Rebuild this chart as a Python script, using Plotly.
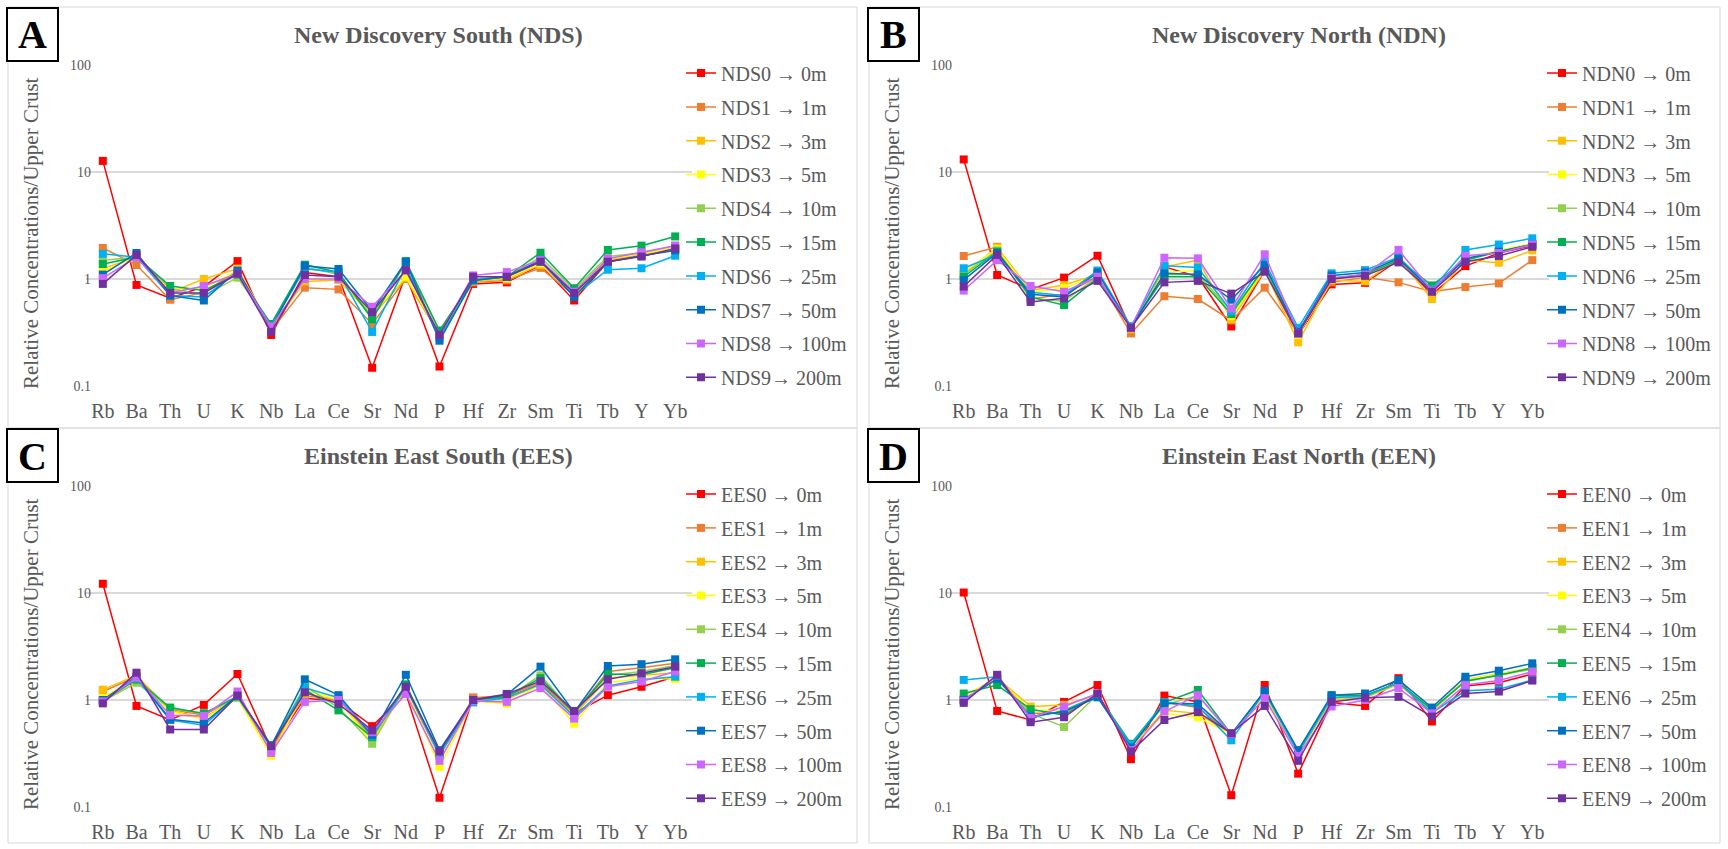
import plotly.graph_objects as go

W, H = 1728, 849

elements = ["Rb", "Ba", "Th", "U", "K", "Nb", "La", "Ce", "Sr", "Nd", "P", "Hf", "Zr", "Sm", "Ti", "Tb", "Y", "Yb"]
depths = ["0m", "1m", "3m", "5m", "10m", "15m", "25m", "50m", "100m", "200m"]
colors = ["#FF0000", "#ED7D31", "#FFC000", "#FFFF00", "#92D050", "#00B050", "#00B0F0", "#0070C0", "#CC66FF", "#7030A0"]

# ---------------- Panel A: New Discovery South (NDS) ----------------
NDS0 = [12.7, 0.88, 0.66, 0.85, 1.47, 0.30, 1.15, 1.05, 0.148, 1.10, 0.152, 0.90, 0.93, 1.35, 0.63, 1.45, 1.65, 1.90]
NDS1 = [1.95, 1.35, 0.64, 0.75, 1.20, 0.33, 0.83, 0.80, 0.38, 1.00, 0.30, 0.93, 0.97, 1.27, 0.70, 1.50, 1.70, 1.95]
NDS2 = [1.25, 1.60, 0.75, 1.00, 1.25, 0.35, 0.95, 0.98, 0.45, 1.02, 0.30, 0.95, 1.00, 1.35, 0.72, 1.50, 1.70, 1.90]
NDS3 = [1.18, 1.60, 0.80, 0.82, 1.20, 0.36, 1.00, 1.00, 0.48, 1.05, 0.31, 0.97, 1.02, 1.40, 0.75, 1.55, 1.72, 1.95]
NDS4 = [1.50, 1.60, 0.82, 0.70, 1.03, 0.37, 1.30, 1.10, 0.45, 1.40, 0.32, 1.00, 1.05, 1.60, 0.80, 1.62, 1.75, 2.05]
NDS5 = [1.38, 1.60, 0.86, 0.78, 1.10, 0.38, 1.36, 1.15, 0.42, 1.47, 0.33, 0.98, 1.05, 1.76, 0.82, 1.87, 2.05, 2.50]
NDS6 = [1.72, 1.60, 0.70, 0.68, 1.15, 0.36, 1.25, 1.15, 0.32, 1.30, 0.28, 0.97, 1.05, 1.45, 0.70, 1.22, 1.26, 1.65]
NDS7 = [1.10, 1.75, 0.70, 0.63, 1.20, 0.35, 1.33, 1.24, 0.50, 1.45, 0.265, 0.97, 1.05, 1.50, 0.68, 1.45, 1.65, 1.85]
NDS8 = [1.02, 1.60, 0.74, 0.86, 1.12, 0.36, 1.00, 1.00, 0.55, 1.20, 0.30, 1.08, 1.16, 1.50, 0.76, 1.55, 1.78, 2.05]
NDS9 = [0.90, 1.68, 0.74, 0.74, 1.12, 0.32, 1.09, 1.05, 0.49, 1.21, 0.30, 1.05, 1.05, 1.45, 0.74, 1.45, 1.62, 1.93]

# ---------------- Panel B: New Discovery North (NDN) ----------------
NDN0 = [13.1, 1.09, 0.80, 1.03, 1.65, 0.34, 1.30, 1.05, 0.36, 1.20, 0.30, 0.89, 0.92, 1.50, 0.72, 1.32, 1.75, 2.05]
NDN1 = [1.64, 2.00, 0.65, 0.72, 1.05, 0.31, 0.69, 0.65, 0.41, 0.83, 0.31, 0.93, 1.04, 0.93, 0.76, 0.84, 0.91, 1.50]
NDN2 = [1.12, 1.97, 0.78, 0.88, 1.10, 0.34, 1.30, 1.50, 0.42, 1.20, 0.256, 0.98, 0.95, 1.55, 0.65, 1.50, 1.42, 1.85]
NDN3 = [1.17, 1.90, 0.75, 0.82, 1.08, 0.35, 1.15, 1.20, 0.45, 1.25, 0.30, 1.00, 1.08, 1.60, 0.78, 1.55, 1.85, 2.15]
NDN4 = [1.10, 1.85, 0.66, 0.62, 1.05, 0.36, 1.10, 1.10, 0.50, 1.25, 0.31, 1.02, 1.10, 1.60, 0.80, 1.55, 1.80, 2.10]
NDN5 = [1.05, 1.80, 0.68, 0.57, 1.02, 0.36, 1.05, 1.05, 0.47, 1.30, 0.32, 1.00, 1.10, 1.50, 0.87, 1.50, 1.80, 2.10]
NDN6 = [1.26, 1.70, 0.75, 0.70, 1.20, 0.36, 1.33, 1.28, 0.50, 1.45, 0.35, 1.13, 1.21, 1.60, 0.80, 1.87, 2.10, 2.40]
NDN7 = [0.98, 1.75, 0.72, 0.68, 1.15, 0.35, 1.13, 1.10, 0.64, 1.35, 0.32, 1.08, 1.15, 1.55, 0.78, 1.55, 1.80, 2.10]
NDN8 = [0.78, 1.50, 0.86, 0.76, 1.05, 0.35, 1.58, 1.56, 0.53, 1.70, 0.31, 1.02, 1.10, 1.87, 0.78, 1.65, 1.75, 2.10]
NDN9 = [0.85, 1.68, 0.61, 0.66, 0.96, 0.35, 0.93, 0.96, 0.73, 1.17, 0.31, 1.00, 1.07, 1.43, 0.76, 1.45, 1.64, 2.00]

# ---------------- Panel C: Einstein East South (EES) ----------------
EES0 = [12.2, 0.88, 0.65, 0.90, 1.75, 0.35, 1.04, 0.98, 0.57, 1.15, 0.122, 1.05, 1.05, 1.40, 0.75, 1.11, 1.33, 1.65]
EES1 = [1.20, 1.65, 0.82, 0.72, 1.08, 0.36, 1.10, 1.00, 0.45, 1.30, 0.30, 1.05, 1.10, 1.45, 0.75, 1.85, 2.00, 2.20]
EES2 = [1.25, 1.70, 0.80, 0.68, 1.05, 0.33, 1.15, 1.00, 0.43, 1.25, 0.30, 1.00, 1.02, 1.40, 0.72, 1.60, 1.70, 1.80]
EES3 = [1.05, 1.60, 0.78, 0.66, 1.05, 0.30, 1.25, 1.00, 0.40, 1.30, 0.237, 0.98, 0.92, 1.40, 0.60, 1.45, 1.60, 1.57]
EES4 = [0.97, 1.45, 0.83, 0.75, 1.05, 0.37, 1.35, 0.85, 0.39, 1.35, 0.30, 1.00, 1.05, 1.70, 0.75, 1.70, 1.85, 2.10]
EES5 = [0.98, 1.55, 0.85, 0.75, 1.08, 0.38, 1.25, 0.80, 0.45, 1.40, 0.31, 1.00, 1.08, 1.60, 0.76, 1.75, 1.72, 2.00]
EES6 = [1.00, 1.60, 0.65, 0.58, 1.08, 0.36, 1.30, 1.05, 0.46, 1.30, 0.31, 0.95, 1.05, 1.40, 0.70, 1.35, 1.55, 1.65]
EES7 = [1.00, 1.65, 0.66, 0.61, 1.10, 0.37, 1.56, 1.11, 0.47, 1.72, 0.34, 1.00, 1.12, 2.05, 0.77, 2.08, 2.16, 2.40]
EES8 = [0.97, 1.62, 0.72, 0.71, 1.20, 0.32, 0.96, 1.00, 0.50, 1.14, 0.27, 0.98, 0.96, 1.29, 0.67, 1.33, 1.49, 1.85]
EES9 = [0.93, 1.80, 0.53, 0.53, 1.10, 0.37, 1.18, 0.92, 0.52, 1.33, 0.33, 1.00, 1.14, 1.50, 0.79, 1.56, 1.78, 2.05]

# ---------------- Panel D: Einstein East North (EEN) ----------------
EEN0 = [10.1, 0.79, 0.65, 0.96, 1.38, 0.28, 1.10, 0.96, 0.129, 1.38, 0.205, 0.95, 0.88, 1.60, 0.63, 1.35, 1.45, 1.75]
EEN1 = [1.00, 1.60, 0.75, 0.75, 1.12, 0.35, 0.95, 0.85, 0.48, 1.15, 0.31, 1.05, 1.08, 1.45, 0.80, 1.55, 1.75, 2.00]
EEN2 = [1.02, 1.60, 0.87, 0.90, 1.12, 0.35, 0.80, 0.75, 0.48, 1.10, 0.31, 1.00, 1.05, 1.40, 0.78, 1.55, 1.75, 1.95]
EEN3 = [1.10, 1.60, 0.80, 0.80, 1.10, 0.36, 0.75, 0.69, 0.48, 1.10, 0.32, 1.05, 1.08, 1.45, 0.80, 1.55, 1.75, 2.00]
EEN4 = [1.02, 1.55, 0.75, 0.56, 1.12, 0.37, 0.90, 1.10, 0.48, 1.15, 0.32, 1.05, 1.10, 1.45, 0.80, 1.50, 1.70, 1.95]
EEN5 = [1.15, 1.38, 0.82, 0.72, 1.12, 0.39, 0.95, 1.24, 0.48, 1.20, 0.33, 1.10, 1.10, 1.45, 0.82, 1.50, 1.70, 2.00]
EEN6 = [1.54, 1.65, 0.68, 0.80, 1.10, 0.38, 0.95, 0.88, 0.42, 1.20, 0.32, 1.05, 1.08, 1.45, 0.76, 1.22, 1.26, 1.54]
EEN7 = [1.00, 1.58, 0.70, 0.78, 1.06, 0.36, 0.93, 0.92, 0.48, 1.22, 0.34, 1.11, 1.15, 1.54, 0.85, 1.65, 1.88, 2.20]
EEN8 = [0.98, 1.70, 0.68, 0.87, 1.15, 0.34, 0.78, 1.11, 0.48, 1.04, 0.30, 0.87, 1.00, 1.29, 0.75, 1.38, 1.52, 1.84]
EEN9 = [0.94, 1.72, 0.62, 0.69, 1.15, 0.33, 0.65, 0.77, 0.49, 0.88, 0.27, 0.96, 1.05, 1.07, 0.70, 1.15, 1.20, 1.52]

panels = [
    dict(letter="A", title="New Discovery South (NDS)", code="NDS",
         series=[NDS0, NDS1, NDS2, NDS3, NDS4, NDS5, NDS6, NDS7, NDS8, NDS9], col=0, row=0),
    dict(letter="B", title="New Discovery North (NDN)", code="NDN",
         series=[NDN0, NDN1, NDN2, NDN3, NDN4, NDN5, NDN6, NDN7, NDN8, NDN9], col=1, row=0),
    dict(letter="C", title="Einstein East South (EES)", code="EES",
         series=[EES0, EES1, EES2, EES3, EES4, EES5, EES6, EES7, EES8, EES9], col=0, row=1),
    dict(letter="D", title="Einstein East North (EEN)", code="EEN",
         series=[EEN0, EEN1, EEN2, EEN3, EEN4, EEN5, EEN6, EEN7, EEN8, EEN9], col=1, row=1),
]

def px(x):
    return x / W

def py(y):
    return 1 - y / H

GRAY = "#595959"
SERIF = "Liberation Serif"

col_x0 = [0, 861]       # horizontal offset of each panel column (px)
row_y0 = [0, 421]       # vertical offset of each panel row (px)

fig = go.Figure()
layout = dict(
    template="none",
    width=W, height=H, margin=dict(l=0, r=0, t=0, b=0, autoexpand=False),
    paper_bgcolor="white", plot_bgcolor="white",
    showlegend=True, annotations=[], shapes=[],
    font=dict(family=SERIF, color=GRAY),
)

for i, p in enumerate(panels):
    ox = col_x0[p["col"]]
    oy = row_y0[p["row"]]
    n = "" if i == 0 else str(i + 1)
    xa, ya = "x" + n, "y" + n
    leg = "legend" + n
    for k, vals in enumerate(p["series"]):
        if i == 0 and k == 9:
            name = f"{p['code']}{k}→ {depths[k]}"
        else:
            name = f"{p['code']}{k} → {depths[k]}"
        fig.add_trace(go.Scatter(
            x=elements, y=vals, name=name, mode="lines+markers",
            line=dict(color=colors[k], width=1.5),
            marker=dict(symbol="square", size=8, color=colors[k], line=dict(width=0)),
            xaxis=xa, yaxis=ya, legend=leg, legendgroup=f"{p['code']}{k}",
        ))
    x0, x1 = ox + 86, ox + 692 - (4 if p["col"] == 1 else 0)
    y0, y1 = oy + 65, oy + 386
    layout["xaxis" + n] = dict(
        domain=[px(x0), px(x1)], anchor=ya, type="category",
        categoryorder="array", categoryarray=elements, range=[-0.5, len(elements) - 0.5],
        showgrid=False, showline=False, zeroline=False, ticks="", ticklen=0, automargin=False,
        tickfont=dict(family=SERIF, size=20, color=GRAY), ticklabelstandoff=11,
    )
    layout["yaxis" + n] = dict(
        domain=[py(y1), py(y0)], anchor=xa, type="log", range=[-1, 2],
        tickvals=[0.1, 1, 10, 100], ticktext=["0.1", "1", "10", "100"],
        showgrid=True, gridcolor="#D9D9D9", gridwidth=1.5,
        showline=False, zeroline=False, ticks="", ticklen=0, automargin=False,
        tickfont=dict(family=SERIF, size=14, color=GRAY), ticklabelstandoff=-6,
    )
    layout[leg] = dict(
        x=px(ox + 681), y=py(oy + 53.6), xanchor="left", yanchor="top",
        font=dict(family=SERIF, size=20, color=GRAY),
        bgcolor="rgba(0,0,0,0)", tracegroupgap=4.8, traceorder="grouped",
    )
    # panel frame
    layout["shapes"].append(dict(type="rect", xref="paper", yref="paper",
                                 x0=px(ox + 8), x1=px(ox + 857 if p["col"] == 0 else ox + 859),
                                 y0=py(oy + 7), y1=py(oy + 428 - (0 if p["row"] == 0 else 6)),
                                 line=dict(color="#D9D9D9", width=1), fillcolor="rgba(0,0,0,0)", layer="below"))
    # letter box
    layout["shapes"].append(dict(type="rect", xref="paper", yref="paper",
                                 x0=px(ox + 7), x1=px(ox + 58), y0=py(oy + 8), y1=py(oy + 61),
                                 line=dict(color="black", width=2), fillcolor="white", layer="above"))
    layout["annotations"].append(dict(text=f"<b>{p['letter']}</b>", xref="paper", yref="paper",
                                      x=px(ox + 32.5), y=py(oy + 35), showarrow=False,
                                      xanchor="center", yanchor="middle",
                                      font=dict(family=SERIF, size=40, color="black")))
    # title
    layout["annotations"].append(dict(text=f"<b>{p['title']}</b>", xref="paper", yref="paper",
                                      x=px(ox + 438), y=py(oy + 35), showarrow=False,
                                      xanchor="center", yanchor="middle",
                                      font=dict(family=SERIF, size=24, color=GRAY)))
    # y-axis title
    layout["annotations"].append(dict(text="Relative Concentrations/Upper Crust", xref="paper", yref="paper",
                                      x=px(ox + 31), y=py(oy + 233), showarrow=False, textangle=-90,
                                      xanchor="center", yanchor="middle",
                                      font=dict(family=SERIF, size=21, color=GRAY)))

fig.update_layout(**layout)
fig.write_html("out.html")
